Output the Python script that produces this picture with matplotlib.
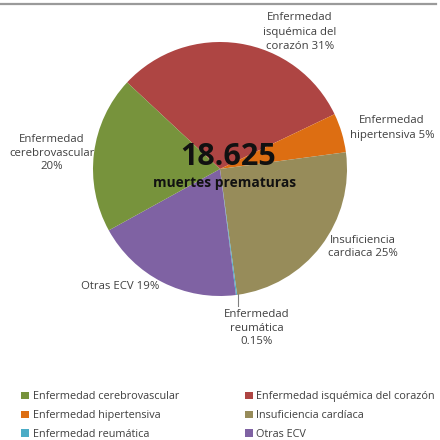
import matplotlib
matplotlib.use("Agg")
import matplotlib.pyplot as plt
from matplotlib.patches import Patch
from matplotlib.lines import Line2D

categories = ["Enfermedad isquémica del corazón", "Enfermedad hipertensiva",
              "Insuficiencia cardíaca", "Enfermedad reumática", "Otras ECV",
              "Enfermedad cerebrovascular"]
values = [31, 5, 25, 0.15, 19, 20]
colors = ["#AE4543", "#DD6E12", "#978C5A", "#4BACC6", "#7F62A3", "#77933C"]
slice_labels = ["Enfermedad\nisquémica del\ncorazón 31%", "Enfermedad\nhipertensiva 5%",
                "Insuficiencia\ncardiaca 25%", "Enfermedad\nreumática\n0.15%",
                "Otras ECV 19%", "Enfermedad\ncerebrovascular\n20%"]
legend_order = ["Enfermedad cerebrovascular", "Enfermedad hipertensiva", "Enfermedad reumática",
                "Enfermedad isquémica del corazón", "Insuficiencia cardíaca", "Otras ECV"]
total_text = "18.625"
sub_text = "muertes prematuras"

plt.rcParams['font.family'] = ['Open Sans', 'DejaVu Sans']

W = H = 440
fig = plt.figure(figsize=(4.4, 4.4), dpi=100)
cx, cy, r = 220, 169, 127
ax = fig.add_axes([(cx - r) / W, (H - cy - r) / H, 2 * r / W, 2 * r / H])
wedges, _ = ax.pie(values, colors=colors, startangle=137, counterclock=False,
                   radius=1, wedgeprops=dict(linewidth=0))
ax.set_xlim(-1, 1)
ax.set_ylim(-1, 1)
ax.set_aspect('equal')
ax.axis('off')

def px(x, y):
    return (x / W, 1 - y / H)

label_pos = [(300, 32), (392, 128), (363, 247), (257, 328), (120, 286), (52, 153)]
spacings = [1.45, 1.45, 1.35, 1.3, 1.3, 1.35]
for lab, (x, y), ls in zip(slice_labels, label_pos, spacings):
    fig.text(*px(x, y), lab, ha='center', va='center', fontsize=8.2,
             color='#404040', linespacing=ls)

# leader line for the tiny slice
fig.add_artist(Line2D([238 / W, 238 / W], [1 - 294 / H, 1 - 306 / H],
                      color='#808080', lw=0.8))

fig.text(*px(228, 157), total_text, ha='center', va='center', fontsize=22,
         fontweight='bold', color='#111111')
fig.text(*px(225, 183), sub_text, ha='center', va='center', fontsize=9.9,
         fontweight='bold', color='#111111')

# top gray line
fig.add_artist(Line2D([0, 436 / W], [1 - 4 / H, 1 - 4 / H], color='#9a9a9a', lw=1.6))

cmap = dict(zip(categories, colors))
handles = [Patch(facecolor=cmap[c], edgecolor='none') for c in legend_order]
fig.legend(handles, legend_order, loc='upper left', bbox_to_anchor=(16 / W, 1 - 386 / H),
           ncol=2, frameon=False, fontsize=7.8, handlelength=0.7, handleheight=0.7,
           handletextpad=0.35, columnspacing=6.1, labelspacing=0.72, borderpad=0,
           labelcolor='#404040')

fig.savefig("out.png", dpi=100, facecolor='white')
